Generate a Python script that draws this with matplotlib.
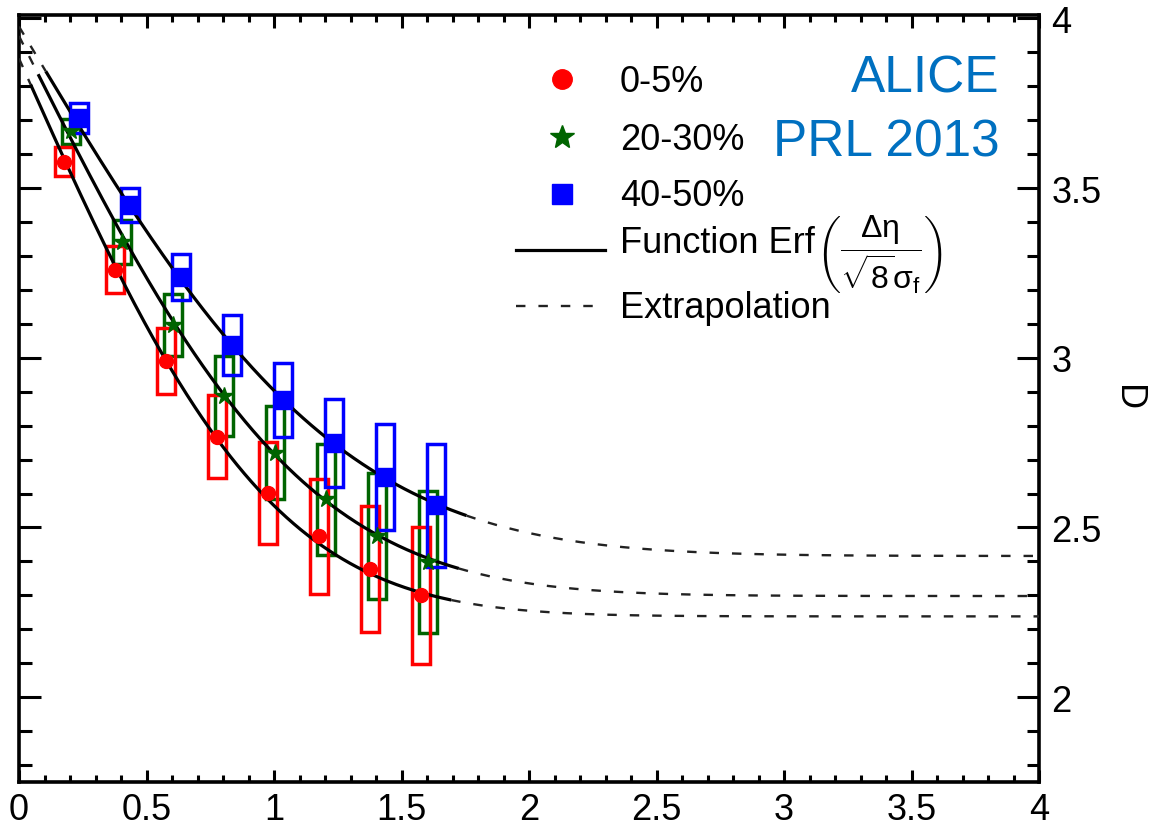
import math
import numpy as np
import matplotlib
matplotlib.use("Agg")
import matplotlib.pyplot as plt
from matplotlib.patches import Rectangle
from matplotlib.ticker import MultipleLocator

plt.rcParams['font.family'] = ['Liberation Sans', 'DejaVu Sans']
plt.rcParams['mathtext.fontset'] = 'custom'
plt.rcParams['mathtext.rm'] = 'Liberation Sans'
plt.rcParams['mathtext.it'] = 'Liberation Sans:italic'
plt.rcParams['mathtext.default'] = 'regular'

# ---------------- data ----------------
labels = ['0-5%', '20-30%', '40-50%']

x_red = [0.175, 0.375, 0.575, 0.775, 0.975, 1.175, 1.375, 1.575]
d_red = [3.578, 3.260, 2.990, 2.768, 2.602, 2.474, 2.377, 2.300]
sys_red = [0.042, 0.070, 0.098, 0.121, 0.150, 0.170, 0.186, 0.201]

x_green = [0.205, 0.405, 0.605, 0.805, 1.005, 1.205, 1.405, 1.605]
d_green = [3.667, 3.340, 3.096, 2.888, 2.720, 2.583, 2.475, 2.398]
sys_green = [0.037, 0.065, 0.091, 0.118, 0.137, 0.164, 0.186, 0.210]

x_blue = [0.235, 0.435, 0.635, 0.835, 1.035, 1.235, 1.435, 1.635]
d_blue = [3.707, 3.451, 3.238, 3.038, 2.875, 2.749, 2.649, 2.565]
sys_blue = [0.045, 0.050, 0.069, 0.088, 0.109, 0.129, 0.157, 0.182]

# Erf fit: D = plateau + amp * (1 - erf(deta / width)), width = sqrt(8)*sigma_f
fit_plateau = [2.238, 2.298, 2.416]
fit_amp = [1.644, 1.650, 1.560]
fit_width = [1.10, 1.24, 1.40]
fit_lo = [0.045, 0.075, 0.105]
fit_hi = [1.695, 1.725, 1.755]

xmin, xmax = 0.0, 4.0
ymin, ymax = 1.75, 4.01

# ---------------- figure ----------------
W, H = 1149, 829
fig = plt.figure(figsize=(W / 100, H / 100), dpi=100)
ax = fig.add_axes([19 / W, 1 - 783 / H, 1020 / W, 767 / H])
ax.set_xlim(xmin, xmax)
ax.set_ylim(ymin, ymax)

colors = ['#FF0000', '#006400', '#0000FF']
markers = ['o', '*', 's']
msizes = [10, 13, 13]
xs = [x_red, x_green, x_blue]
ds = [d_red, d_green, d_blue]
ss = [sys_red, sys_green, sys_blue]

box_w = 0.07
erf = np.vectorize(math.erf)
dash_style = (0, (4, 5.5))

# boxes (systematic)
for k in [1, 0, 2]:
    for xv, dv, sv in zip(xs[k], ds[k], ss[k]):
        ax.add_patch(Rectangle((xv - box_w / 2, dv - sv), box_w, 2 * sv,
                               fill=False, edgecolor=colors[k], lw=2.5, zorder=2))

# fit curves
for k in range(3):
    def f(x, k=k):
        return fit_plateau[k] + fit_amp[k] * (1 - erf(np.asarray(x) / fit_width[k]))
    xs_solid = np.linspace(fit_lo[k], fit_hi[k], 300)
    ax.plot(xs_solid, f(xs_solid), color='black', lw=2.3, zorder=4,
            solid_capstyle='butt')
    x_left = np.linspace(0, fit_lo[k], 20)
    ax.plot(x_left, f(x_left), color='#222222', lw=1.7, ls=dash_style, zorder=4)
    x_right = np.linspace(fit_hi[k], xmax, 300)
    ax.plot(x_right, f(x_right), color='#222222', lw=1.7, ls=dash_style, zorder=4)

# markers
for k in range(3):
    ax.plot(xs[k], ds[k], ls='none', marker=markers[k], ms=msizes[k],
            color=colors[k], mec=colors[k], zorder=5)

# ---------------- axes styling ----------------
ax.xaxis.set_major_locator(MultipleLocator(0.5))
ax.xaxis.set_minor_locator(MultipleLocator(0.1))
ax.yaxis.set_major_locator(MultipleLocator(0.5))
ax.yaxis.set_minor_locator(MultipleLocator(0.1))
ax.tick_params(axis='x', which='major', direction='in', length=9, width=2.2,
               top=True, bottom=True, labelsize=26, pad=7)
ax.tick_params(axis='x', which='minor', direction='in', length=5, width=2.2,
               top=True, bottom=True)
ax.tick_params(axis='y', which='major', direction='in', length=16, width=2.2,
               left=True, right=True, labelleft=False, labelright=True,
               labelsize=26, pad=9)
ax.tick_params(axis='y', which='minor', direction='in', length=9, width=2.2,
               left=True, right=True)
ax.xaxis.set_major_formatter(matplotlib.ticker.FuncFormatter(lambda v, p: f'{v:g}'))
ax.yaxis.set_major_formatter(matplotlib.ticker.FuncFormatter(lambda v, p: f'{v:g}'))
for sp in ax.spines.values():
    sp.set_linewidth(2.6)

fig.text(1110 / W, 1 - 398 / H, 'D', rotation=270, ha='left', va='center', fontsize=26)

# ---------------- legend (manual) ----------------
def ax_xy(px, py):
    return (px - 19) / 1020, (783 - py) / 767

leg_marker_px = 562
leg_text_px = 620
leg_marker_y = [80, 138, 195]
leg_text_base = [92, 150, 206]
leg_msizes = [14, 18, 14]
for k in range(3):
    mx, my = ax_xy(leg_marker_px, leg_marker_y[k])
    ax.plot([mx], [my], marker=markers[k], ms=leg_msizes[k], color=colors[k],
            ls='none', transform=ax.transAxes, clip_on=False, zorder=6)
    tx, ty = ax_xy(leg_text_px, leg_text_base[k])
    ax.text(tx, ty, labels[k], transform=ax.transAxes, fontsize=26,
            ha='left', va='baseline')

x1, y1 = ax_xy(516, 251)
x2, _ = ax_xy(605, 251)
ax.plot([x1, x2], [y1, y1], color='black', lw=2.3, transform=ax.transAxes)
tx, ty = ax_xy(leg_text_px, 253)
t_func = ax.text(tx, ty, 'Function Erf', transform=ax.transAxes, fontsize=26,
                 ha='left', va='baseline')
fig.canvas.draw()
bb = t_func.get_window_extent(fig.canvas.get_renderer())
mx_ax = ax.transAxes.inverted().transform((bb.x1 + 1, 0))[0]
_, my_ax = ax_xy(0, 258)
ax.text(mx_ax, my_ax, r'$\left(\dfrac{\Delta\eta}{\sqrt{8}\sigma_{f}}\right)$',
        transform=ax.transAxes, fontsize=23, ha='left', va='baseline')

x1, y1 = ax_xy(516, 307)
x2, _ = ax_xy(602, 307)
ax.plot([x1, x2], [y1, y1], color='#222222', lw=1.7, ls=dash_style,
        transform=ax.transAxes)
tx, ty = ax_xy(leg_text_px, 318)
ax.text(tx, ty, 'Extrapolation', transform=ax.transAxes, fontsize=26,
        ha='left', va='baseline')

# ALICE label
tx, ty = ax_xy(1000, 93)
ax.text(tx, ty, 'ALICE', transform=ax.transAxes, fontsize=37, color='#0070C0',
        ha='right', va='baseline')
tx, ty = ax_xy(1000, 157)
ax.text(tx, ty, 'PRL 2013', transform=ax.transAxes, fontsize=37, color='#0070C0',
        ha='right', va='baseline')

fig.savefig('out.png', dpi=100)
